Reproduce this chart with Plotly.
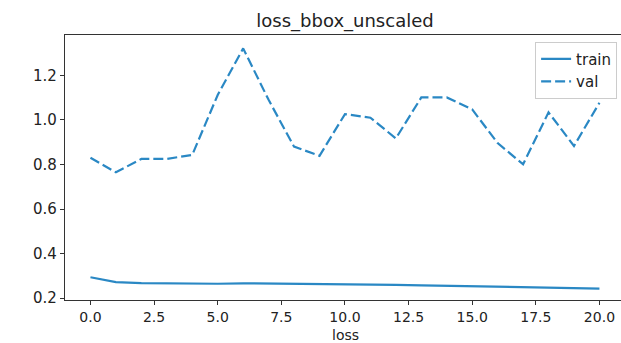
import plotly.graph_objects as go

epochs = list(range(21))
train = [0.294, 0.272, 0.268, 0.266, 0.265, 0.265, 0.267, 0.266, 0.267, 0.266,
         0.264, 0.262, 0.260, 0.258, 0.256, 0.254, 0.252, 0.250, 0.248, 0.246, 0.243]
val = [0.830, 0.765, 0.825, 0.825, 0.843, 1.112, 1.321, 1.090, 0.880, 0.839,
       1.026, 1.010, 0.917, 1.101, 1.101, 1.047, 0.896, 0.801, 1.034, 0.883, 1.077]
x_ticks = [0, 2.5, 5, 7.5, 10, 12.5, 15, 17.5, 20]
y_ticks = [0.2, 0.4, 0.6, 0.8, 1.0, 1.2]

color = "#2a88c4"
font = "DejaVu Sans"

fig = go.Figure()
fig.add_trace(go.Scatter(x=epochs, y=train, mode="lines", name="train",
                         line=dict(color=color, width=2.2)))
fig.add_trace(go.Scatter(x=epochs, y=val, mode="lines", name="val",
                         line=dict(color=color, width=2.2, dash="10px,4px")))

fig.update_layout(
    width=621, height=343,
    margin=dict(l=65, r=0, t=35, b=43),
    paper_bgcolor="white", plot_bgcolor="white",
    font=dict(family=font, size=15, color="#222"),
    title=dict(text="loss_bbox_unscaled", x=345/621, xanchor="center",
               y=1 - 21/343, yanchor="middle", font=dict(size=18, color="#222")),
    legend=dict(x=0.993, y=0.975, xanchor="right", yanchor="top",
                bordercolor="#cccccc", borderwidth=1, bgcolor="rgba(255,255,255,0.8)",
                font=dict(size=15), tracegroupgap=0, itemwidth=30),
    showlegend=True,
    annotations=[dict(text="loss", xref="paper", yref="paper",
                      x=(345 - 65) / 556, y=-(34.5 / 265), xanchor="center",
                      yanchor="middle", showarrow=False,
                      font=dict(size=14, color="#222"))],
)
fig.update_xaxes(range=[-1, 20.847], tickvals=x_ticks,
                 ticktext=[f"{v:.1f}" for v in x_ticks],
                 showgrid=False, zeroline=False, showline=True, linecolor="#333",
                 linewidth=1.2, mirror=True, ticks="outside", ticklen=4,
                 tickcolor="#333", tickfont=dict(size=14))
fig.update_yaxes(range=[0.192, 1.381], tickvals=y_ticks,
                 ticktext=[f"{v:.1f}" for v in y_ticks],
                 showgrid=False, zeroline=False, showline=True, linecolor="#333",
                 linewidth=1.2, ticks="outside", ticklen=4, tickcolor="#333")

fig.write_html("out.html")
